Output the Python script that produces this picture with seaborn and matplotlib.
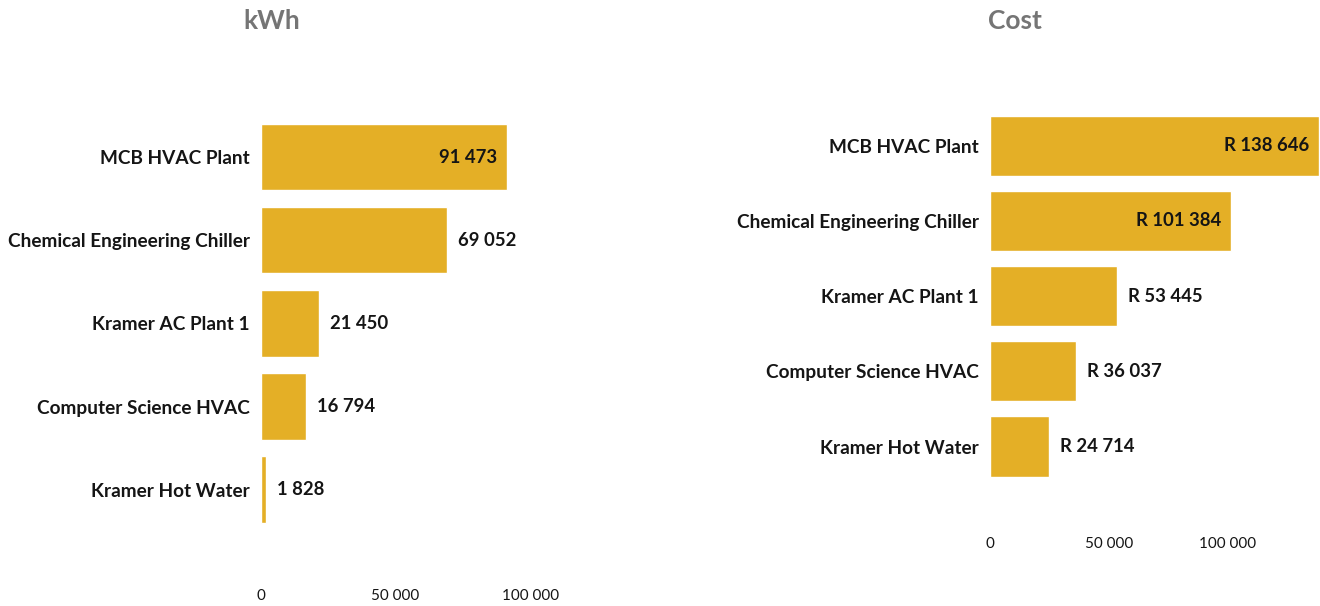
import matplotlib
matplotlib.use("Agg")
import matplotlib.pyplot as plt
import seaborn as sns
import pandas as pd

# ---- data ----
kwh_categories = ["MCB HVAC Plant", "Chemical Engineering Chiller", "Kramer AC Plant 1",
                  "Computer Science HVAC", "Kramer Hot Water"]
kwh_values = [91473, 69052, 21450, 16794, 1828]

cost_categories = ["MCB HVAC Plant", "Chemical Engineering Chiller", "Kramer AC Plant 1",
                   "Computer Science HVAC", "Kramer Hot Water"]
cost_values = [138646, 101384, 53445, 36037, 24714]

x_ticks = [0, 50000, 100000]
titles = ["kWh", "Cost"]

BAR = "#E4AF26"
TEXT = "#151515"
TITLE = "#757575"

sns.set_theme(style="white")
plt.rcParams["font.family"] = ["Lato", "DejaVu Sans"]

W, H = 1320, 606
fig = plt.figure(figsize=(W / 100, H / 100), dpi=100)


def px_axes(x0, x1, y0, y1):
    return fig.add_axes([x0 / W, 1 - y1 / H, (x1 - x0) / W, (y1 - y0) / H])


def fmt(v):
    return f"{v:,}".replace(",", " ")


def draw(ax, cats, vals, xmax, prefix):
    df = pd.DataFrame({"cat": cats, "val": vals})
    sns.barplot(data=df, x="val", y="cat", orient="h", color=BAR, width=0.8,
                saturation=1, ax=ax)
    ax.set_xlim(0, xmax)
    ax.set_ylim(5.11, -0.5)
    ax.set_xticks(x_ticks)
    ax.set_xticklabels([fmt(t) for t in x_ticks], fontsize=11, color=TEXT)
    ax.set_xlabel("")
    ax.set_ylabel("")
    ax.tick_params(axis="both", length=0)
    ax.tick_params(axis="y", pad=8)
    ax.tick_params(axis="x", pad=5)
    for lab in ax.get_yticklabels():
        lab.set_fontsize(13.7)
        lab.set_fontweight("bold")
        lab.set_color(TEXT)
    for s in ax.spines.values():
        s.set_visible(False)
    for i, v in enumerate(vals):
        txt = prefix + fmt(v)
        if v > 0.7 * xmax:
            ax.annotate(txt, (v, i), xytext=(-7, 0), textcoords="offset points",
                        ha="right", va="center", fontsize=13.3, fontweight="bold", color=TEXT)
        else:
            ax.annotate(txt, (v, i), xytext=(8, 0), textcoords="offset points",
                        ha="left", va="center", fontsize=13.3, fontweight="bold", color=TEXT)


ax1 = px_axes(261, 557, 115.5, 582)
draw(ax1, kwh_categories, kwh_values, 110000, "")

ax2 = px_axes(990, 1319, 108, 530)
draw(ax2, cost_categories, cost_values, max(cost_values), "R ")

fig.text(271.5 / W, 1 - 21 / H, titles[0], ha="center", va="center",
         fontsize=19, fontweight="bold", color=TITLE)
fig.text(1015 / W, 1 - 21 / H, titles[1], ha="center", va="center",
         fontsize=19, fontweight="bold", color=TITLE)

fig.savefig("out.png", dpi=100, facecolor="white")
